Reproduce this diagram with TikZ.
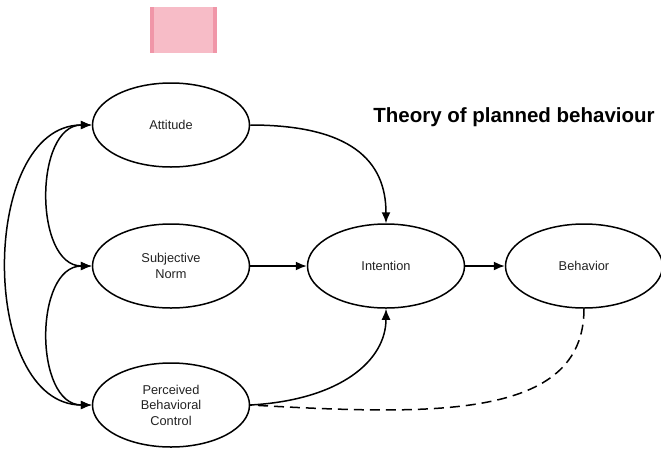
\documentclass[tikz,border=0pt]{standalone}
\usepackage{fontspec}
\setmainfont{Liberation Sans}
\usetikzlibrary{shapes.geometric,arrows.meta}
\definecolor{pinkfill}{RGB}{247,188,199}
\definecolor{pinkedge}{RGB}{240,150,168}
\definecolor{labelgray}{RGB}{34,34,34}

\begin{document}
\begin{tikzpicture}[x=1pt,y=-1pt,
    construct/.style={ellipse,draw,line width=1.5pt,minimum width=157pt,minimum height=84pt,inner sep=0pt,align=center,text=labelgray,font=\fontsize{12.8}{15.5}\selectfont},
    link/.style={line width=1.5pt,-{Latex[length=11pt,width=9pt]}},
    twoway/.style={line width=1.5pt,{Latex[length=11pt,width=9pt]}-{Latex[length=11pt,width=9pt]}},
    feedback/.style={line width=1.5pt,dash pattern=on 10pt off 6pt}]
    \useasboundingbox (0,0) rectangle (661,448);
    \fill[pinkfill] (150,7) rectangle (217,53);
    \fill[pinkedge] (150,7) rectangle (154,53);
    \fill[pinkedge] (213,7) rectangle (217,53);
    \node[construct] (att) at (171,125) {Attitude};
    \node[construct] (norm) at (171,266) {Subjective\\Norm};
    \node[construct] (pbc) at (171,405) {Perceived\\Behavioral\\Control};
    \node[construct] (int) at (386,266) {Intention};
    \node[construct] (beh) at (584,266) {Behavior};
    \node[font=\bfseries\fontsize{20.5}{24}\selectfont] (title) at (514,117) {Theory of planned behaviour};
    \draw[twoway] (att.west) .. controls +(-58,0) and +(-58,0) .. (norm.west);
    \draw[twoway] (norm.west) .. controls +(-58,0) and +(-58,0) .. (pbc.west);
    \draw[twoway] (att.west) .. controls +(-113,0) and +(-113,0) .. (pbc.west);
    \draw[link] (att.east) .. controls +(100,0) and +(0,-63) .. (int.north);
    \draw[link] (norm.east) -- (int.west);
    \draw[link] (pbc.east) .. controls +(90,-5) and +(0,52) .. (int.south);
    \draw[link] (int.east) -- (beh.west);
    \draw[feedback] (beh.south) .. controls +(0,112) and +(180,10) .. (pbc.east);
\end{tikzpicture}
\end{document}
